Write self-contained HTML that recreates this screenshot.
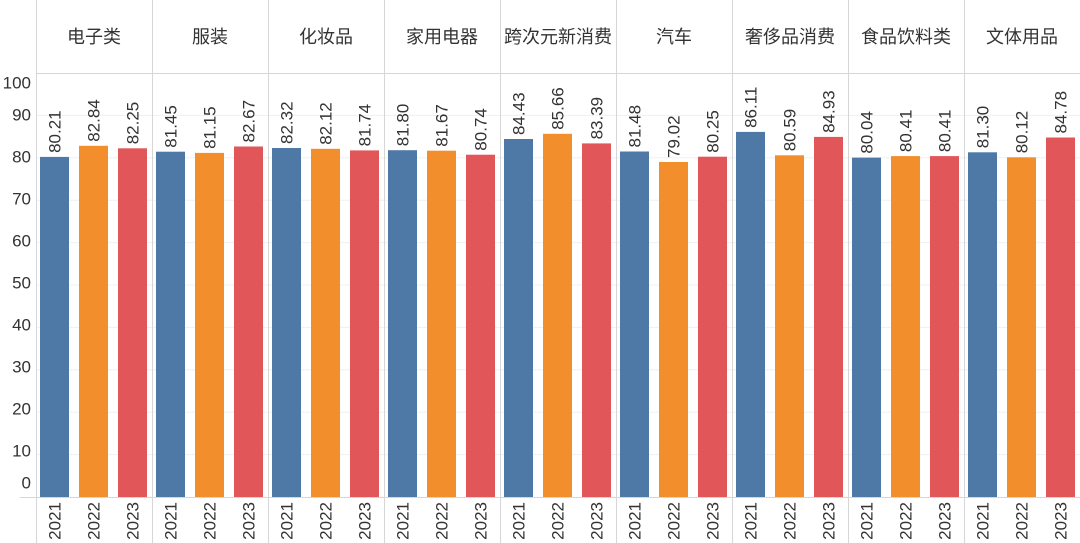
<!DOCTYPE html>
<html><head><meta charset="utf-8"><style>
body{margin:0;background:#fff}
svg{display:block;font-family:"Liberation Sans","Noto Sans CJK SC",sans-serif}
.t{font-size:17px;fill:#333}
.h{font-size:18px;fill:#333;text-anchor:middle}
.y{font-size:17px;fill:#333;text-anchor:end;dominant-baseline:middle}
.g{stroke:#f0f0f0;stroke-width:1}
.d{stroke:#d6d6d6;stroke-width:1}
</style></head><body>
<svg width="1080" height="543" viewBox="0 0 1080 543">
<g class="g">
<line x1="36" x2="1080" y1="454.6" y2="454.6"/><line x1="36" x2="1080" y1="412.2" y2="412.2"/>
<line x1="36" x2="1080" y1="369.8" y2="369.8"/><line x1="36" x2="1080" y1="327.4" y2="327.4"/>
<line x1="36" x2="1080" y1="285" y2="285"/><line x1="36" x2="1080" y1="242.6" y2="242.6"/>
<line x1="36" x2="1080" y1="200.2" y2="200.2"/><line x1="36" x2="1080" y1="157.8" y2="157.8"/>
<line x1="36" x2="1080" y1="115.4" y2="115.4"/>
</g>
<g class="d">
<line x1="36" x2="1080" y1="73.5" y2="73.5"/>
<line x1="20" x2="1080" y1="497.5" y2="497.5"/>
<line x1="36.5" x2="36.5" y1="0" y2="543"/><line x1="152.5" x2="152.5" y1="0" y2="543"/>
<line x1="268.5" x2="268.5" y1="0" y2="543"/><line x1="384.5" x2="384.5" y1="0" y2="543"/>
<line x1="500.5" x2="500.5" y1="0" y2="543"/><line x1="616.5" x2="616.5" y1="0" y2="543"/>
<line x1="732.5" x2="732.5" y1="0" y2="543"/><line x1="848.5" x2="848.5" y1="0" y2="543"/>
<line x1="964.5" x2="964.5" y1="0" y2="543"/>
</g>
<g class="y">
<text x="31" y="84">100</text><text x="31" y="116">90</text><text x="31" y="158">80</text>
<text x="31" y="200">70</text><text x="31" y="242">60</text><text x="31" y="284">50</text>
<text x="31" y="326">40</text><text x="31" y="368">30</text><text x="31" y="410">20</text>
<text x="31" y="452">10</text><text x="31" y="484">0</text>
</g>
<g class="h">
<text x="94" y="43">电子类</text><text x="210" y="43">服装</text><text x="326" y="43">化妆品</text>
<text x="442" y="43">家用电器</text><text x="558" y="43">跨次元新消费</text><text x="674" y="43">汽车</text>
<text x="790" y="43">奢侈品消费</text><text x="906" y="43">食品饮料类</text><text x="1022" y="43">文体用品</text>
</g>
<g>
<rect x="40" y="156.9" width="29" height="340.1" fill="#4e79a7"/>
<rect x="79" y="145.8" width="29" height="351.2" fill="#f28e2b"/>
<rect x="118" y="148.3" width="29" height="348.7" fill="#e15759"/>
<rect x="156" y="151.7" width="29" height="345.3" fill="#4e79a7"/>
<rect x="195" y="152.9" width="29" height="344.1" fill="#f28e2b"/>
<rect x="234" y="146.5" width="29" height="350.5" fill="#e15759"/>
<rect x="272" y="148.0" width="29" height="349" fill="#4e79a7"/>
<rect x="311" y="148.8" width="29" height="348.2" fill="#f28e2b"/>
<rect x="350" y="150.4" width="29" height="346.6" fill="#e15759"/>
<rect x="388" y="150.2" width="29" height="346.8" fill="#4e79a7"/>
<rect x="427" y="150.7" width="29" height="346.3" fill="#f28e2b"/>
<rect x="466" y="154.7" width="29" height="342.3" fill="#e15759"/>
<rect x="504" y="139.0" width="29" height="358" fill="#4e79a7"/>
<rect x="543" y="133.8" width="29" height="363.2" fill="#f28e2b"/>
<rect x="582" y="143.4" width="29" height="353.6" fill="#e15759"/>
<rect x="620" y="151.5" width="29" height="345.5" fill="#4e79a7"/>
<rect x="659" y="162.0" width="29" height="335" fill="#f28e2b"/>
<rect x="698" y="156.7" width="29" height="340.3" fill="#e15759"/>
<rect x="736" y="131.9" width="29" height="365.1" fill="#4e79a7"/>
<rect x="775" y="155.3" width="29" height="341.7" fill="#f28e2b"/>
<rect x="814" y="136.9" width="29" height="360.1" fill="#e15759"/>
<rect x="852" y="157.6" width="29" height="339.4" fill="#4e79a7"/>
<rect x="891" y="156.1" width="29" height="340.9" fill="#f28e2b"/>
<rect x="930" y="156.1" width="29" height="340.9" fill="#e15759"/>
<rect x="968" y="152.3" width="29" height="344.7" fill="#4e79a7"/>
<rect x="1007" y="157.3" width="29" height="339.7" fill="#f28e2b"/>
<rect x="1046" y="137.5" width="29" height="359.5" fill="#e15759"/>
</g>
<g class="t">
<text transform="translate(60.5,152.9) rotate(-90)">80.21</text>
<text transform="translate(99.5,141.8) rotate(-90)">82.84</text>
<text transform="translate(138.5,144.3) rotate(-90)">82.25</text>
<text transform="translate(176.5,147.7) rotate(-90)">81.45</text>
<text transform="translate(215.5,148.9) rotate(-90)">81.15</text>
<text transform="translate(254.5,142.5) rotate(-90)">82.67</text>
<text transform="translate(292.5,144.0) rotate(-90)">82.32</text>
<text transform="translate(331.5,144.8) rotate(-90)">82.12</text>
<text transform="translate(370.5,146.4) rotate(-90)">81.74</text>
<text transform="translate(408.5,146.2) rotate(-90)">81.80</text>
<text transform="translate(447.5,146.7) rotate(-90)">81.67</text>
<text transform="translate(486.5,150.7) rotate(-90)">80.74</text>
<text transform="translate(524.5,135.0) rotate(-90)">84.43</text>
<text transform="translate(563.5,129.8) rotate(-90)">85.66</text>
<text transform="translate(602.5,139.4) rotate(-90)">83.39</text>
<text transform="translate(640.5,147.5) rotate(-90)">81.48</text>
<text transform="translate(679.5,158.0) rotate(-90)">79.02</text>
<text transform="translate(718.5,152.7) rotate(-90)">80.25</text>
<text transform="translate(756.5,127.9) rotate(-90)">86.11</text>
<text transform="translate(795.5,151.3) rotate(-90)">80.59</text>
<text transform="translate(834.5,132.9) rotate(-90)">84.93</text>
<text transform="translate(872.5,153.6) rotate(-90)">80.04</text>
<text transform="translate(911.5,152.1) rotate(-90)">80.41</text>
<text transform="translate(950.5,152.1) rotate(-90)">80.41</text>
<text transform="translate(988.5,148.3) rotate(-90)">81.30</text>
<text transform="translate(1027.5,153.3) rotate(-90)">80.12</text>
<text transform="translate(1066.5,133.5) rotate(-90)">84.78</text>
</g>
<g class="t" text-anchor="end">
<text transform="translate(60.5,502) rotate(-90)">2021</text><text transform="translate(99.5,502) rotate(-90)">2022</text><text transform="translate(138.5,502) rotate(-90)">2023</text>
<text transform="translate(176.5,502) rotate(-90)">2021</text><text transform="translate(215.5,502) rotate(-90)">2022</text><text transform="translate(254.5,502) rotate(-90)">2023</text>
<text transform="translate(292.5,502) rotate(-90)">2021</text><text transform="translate(331.5,502) rotate(-90)">2022</text><text transform="translate(370.5,502) rotate(-90)">2023</text>
<text transform="translate(408.5,502) rotate(-90)">2021</text><text transform="translate(447.5,502) rotate(-90)">2022</text><text transform="translate(486.5,502) rotate(-90)">2023</text>
<text transform="translate(524.5,502) rotate(-90)">2021</text><text transform="translate(563.5,502) rotate(-90)">2022</text><text transform="translate(602.5,502) rotate(-90)">2023</text>
<text transform="translate(640.5,502) rotate(-90)">2021</text><text transform="translate(679.5,502) rotate(-90)">2022</text><text transform="translate(718.5,502) rotate(-90)">2023</text>
<text transform="translate(756.5,502) rotate(-90)">2021</text><text transform="translate(795.5,502) rotate(-90)">2022</text><text transform="translate(834.5,502) rotate(-90)">2023</text>
<text transform="translate(872.5,502) rotate(-90)">2021</text><text transform="translate(911.5,502) rotate(-90)">2022</text><text transform="translate(950.5,502) rotate(-90)">2023</text>
<text transform="translate(988.5,502) rotate(-90)">2021</text><text transform="translate(1027.5,502) rotate(-90)">2022</text><text transform="translate(1066.5,502) rotate(-90)">2023</text>
</g>
</svg>
</body></html>
